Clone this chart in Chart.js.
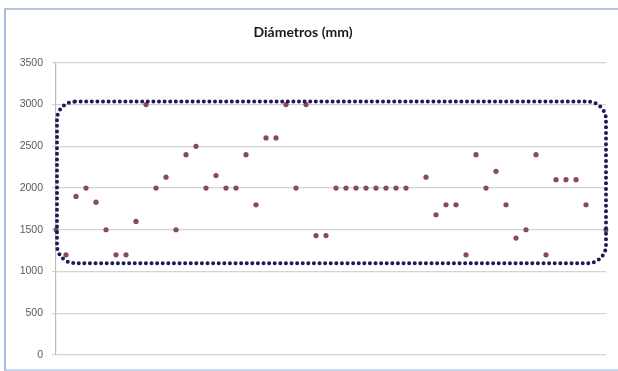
<!DOCTYPE html>
<html>
<head>
<meta charset="utf-8">
<script src="https://cdn.jsdelivr.net/npm/chart.js@4/dist/chart.umd.min.js"></script>
<style>
  html, body { margin: 0; padding: 0; background: #ffffff; }
  #wrap { position: relative; width: 618px; height: 371px; overflow: hidden; }
  #frame {
    position: absolute; left: 4px; top: 8px; width: 620px; height: 359px;
    border-left: 2px solid #a7bcdb; border-top: 2px solid #b7c5dd; border-bottom: 2px solid #c9d4e6;
    pointer-events: none;
  }
  canvas { position: absolute; left: 0; top: 0; }
</style>
</head>
<body>
<div id="wrap">
  <canvas id="grafico" width="618" height="371"></canvas>
  <div id="frame"></div>
</div>
<script>
// Número de muestra (eje de categorías, sin etiquetas visibles)
const muestras = [
  '1','2','3','4','5','6','7','8','9','10','11','12','13','14',
  '15','16','17','18','19','20','21','22','23','24','25','26','27','28',
  '29','30','31','32','33','34','35','36','37','38','39','40','41','42',
  '43','44','45','46','47','48','49','50','51','52','53','54','55','56'
];

// Diámetro medido en cada muestra (mm); null = sin dato
const diametros = [
  1500, 1200, 1900, 2000, 1830, 1500, 1200, 1200, 1600, 3000, 2000, 2130, 1500, 2400,
  2500, 2000, 2150, 2000, 2000, 2400, 1800, 2600, 2600, 3000, 2000, 3000, 1430, 1430,
  2000, 2000, 2000, 2000, 2000, 2000, 2000, 2000, null, 2130, 1680, 1800, 1800, 1200,
  2400, 2000, 2200, 1800, 1400, 1500, 2400, 1200, 2100, 2100, 2100, 1800, null, 1500
];

// Marcas del eje vertical
const marcasY = [0, 500, 1000, 1500, 2000, 2500, 3000, 3500];

// Franja de valores habituales, resaltada con un contorno punteado redondeado
const franja = { min: 1100, max: 3035 };

const contornoFranja = {
  id: 'contornoFranja',
  afterDatasetsDraw(chart) {
    const { ctx, chartArea, scales } = chart;
    const top = scales.y.getPixelForValue(franja.max);
    const bottom = scales.y.getPixelForValue(franja.min);
    const left = chartArea.left + 1;
    const right = chartArea.right;
    ctx.save();
    ctx.beginPath();
    ctx.roundRect(left, top, right - left, bottom - top, 18);
    ctx.setLineDash([0, 5.6]);
    ctx.lineCap = 'round';
    ctx.lineWidth = 4;
    ctx.strokeStyle = '#1b1b55';
    ctx.stroke();
    ctx.restore();
  }
};

new Chart(document.getElementById('grafico'), {
  type: 'line',
  data: {
    labels: muestras,
    datasets: [{
      data: diametros,
      showLine: false,
      pointRadius: 2.6,
      pointHoverRadius: 2.6,
      pointBorderWidth: 0,
      pointBackgroundColor: '#864b58',
      pointBorderColor: '#864b58'
    }]
  },
  options: {
    responsive: false,
    animation: false,
    events: [],
    layout: { padding: { left: 0, right: 12, top: 0, bottom: 16 } },
    plugins: {
      legend: { display: false },
      tooltip: { enabled: false },
      title: {
        display: true,
        text: 'Diámetros (mm)',
        color: '#1a1a1a',
        font: { family: 'Lato', size: 14, weight: 'bold' },
        padding: { top: 24, bottom: 22 }
      }
    },
    scales: {
      x: {
        type: 'category',
        offset: false,
        display: false
      },
      y: {
        min: 0,
        max: 3500,
        afterBuildTicks(scale) {
          scale.ticks = marcasY.map(v => ({ value: v }));
        },
        afterFit(scale) { scale.width = 56; },
        grid: {
          color: '#d4d4d4',
          lineWidth: 1.2,
          tickLength: 4,
          drawTicks: true
        },
        border: { display: true, color: '#bdbdbd', width: 1.2 },
        ticks: {
          color: '#5a5a5a',
          padding: 9,
          font: { family: 'Liberation Sans', size: 10.5 },
          callback: (v) => String(v)
        }
      }
    }
  },
  plugins: [contornoFranja]
});
</script>
</body>
</html>
